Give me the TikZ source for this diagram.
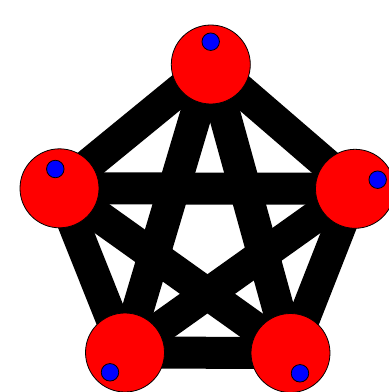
\documentclass[tikz,border=0pt]{standalone}
\usepackage{tikz}
\begin{document}
\begin{tikzpicture}[x=1pt,y=-1pt]
\tikzset{vertex/.style={circle,fill=red,draw=black,line width=0.8pt,inner sep=0pt,minimum size=79pt},
  dot/.style={circle,fill=blue,draw=black,line width=0.8pt,inner sep=0pt,minimum size=17.5pt},
  edge/.style={line width=32pt,draw=black,yshift=-3pt}}
\useasboundingbox (0,0) rectangle (389,392);
\coordinate (t) at (210.8,64.5);
\coordinate (l) at (59.5,188.3);
\coordinate (r) at (355,188.8);
\coordinate (bl) at (125,352.5);
\coordinate (br) at (290.5,353);
% outer pentagon
\draw[edge] (t) -- (l);
\draw[edge] (l) -- (bl);
\draw[edge] (bl) -- (br);
\draw[edge] (br) -- (r);
\draw[edge] (r) -- (t);
% inner star
\draw[edge] (t) -- (bl);
\draw[edge] (t) -- (br);
\draw[edge] (l) -- (r);
\draw[edge] (l) -- (br);
\draw[edge] (r) -- (bl);
\node[vertex] (tv) at (t) {};
\node[vertex] (lv) at (l) {};
\node[vertex] (rv) at (r) {};
\node[vertex] (blv) at (bl) {};
\node[vertex] (brv) at (br) {};
\node[dot] (td) at (210.7,41.7) {};
\node[dot] (ld) at (55.3,169) {};
\node[dot] (rd) at (377.7,179.7) {};
\node[dot] (bld) at (110,372.3) {};
\node[dot] (brd) at (300,373.3) {};
\end{tikzpicture}
\end{document}
